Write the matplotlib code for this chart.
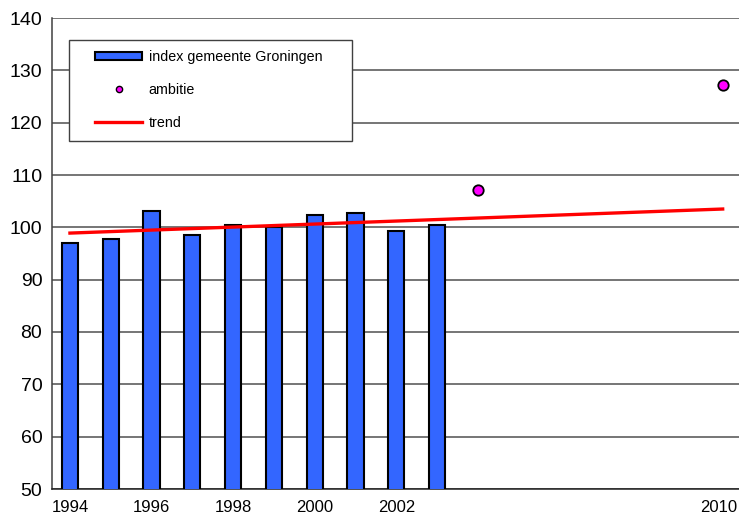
import numpy as np
import matplotlib.pyplot as plt
import matplotlib.transforms as mtransforms
from matplotlib.patches import Patch, Rectangle
from matplotlib.lines import Line2D

plt.rcParams['font.family'] = ['Liberation Sans', 'DejaVu Sans']

# index gemeente Groningen
years = [1994, 1995, 1996, 1997, 1998, 1999, 2000, 2001, 2002, 2003]
index = [97.0, 97.8, 103.1, 98.5, 100.4, 100.0, 102.3, 102.7, 99.3, 100.4]

# ambitie
amb_years = [2004, 2010]
amb_values = [107.1, 127.2]

# trend
trend_years = [1994, 2010]
trend_values = [98.9, 103.5]

xtick_pos = [1994, 1996, 1998, 2000, 2002, 2010]
ytick_pos = [50, 60, 70, 80, 90, 100, 110, 120, 130, 140]

fig = plt.figure(figsize=(7.39, 5.22), dpi=100)
ax = fig.add_axes([52 / 739, 33 / 522, 687 / 739, 471 / 522])

ax.bar(years, index, width=0.40, color='#3366FF', edgecolor='black',
       linewidth=1.5, zorder=3)
ax.plot(trend_years, trend_values, color='#FF0000', linewidth=2.4, zorder=4)
ax.plot(amb_years, amb_values, 'o', color='#FF00FF', markeredgecolor='black',
        markeredgewidth=1.3, markersize=7.5, zorder=5, linestyle='none')

ax.set_xlim(1993.56, 2010.4)
ax.set_ylim(50, 140)
ax.set_yticks(ytick_pos)
ax.set_xticks(xtick_pos)
ax.tick_params(axis='both', length=0)
ax.tick_params(axis='x', labelsize=12, pad=8)
ax.tick_params(axis='y', labelsize=14, pad=7)
ax.yaxis.grid(True, color='#505050', linewidth=1.1, zorder=0)
ax.set_axisbelow(True)

for s in ['top', 'right']:
    ax.spines[s].set_visible(False)
ax.spines['left'].set_color('#404040')
ax.spines['bottom'].set_color('#202020')
ax.spines['left'].set_linewidth(1.1)
ax.spines['bottom'].set_linewidth(1.1)

# last year label sits a bit to the left so it stays inside the picture
lbl = ax.get_xticklabels()[-1]
lbl.set_transform(lbl.get_transform() +
                  mtransforms.ScaledTranslation(-0.04, 0, fig.dpi_scale_trans))

# legend frame drawn by hand (wider than the legend content)
box = Rectangle((17 / 687, 1 - 123 / 471), 283 / 687, 101 / 471,
                transform=ax.transAxes, facecolor='white',
                edgecolor='#404040', linewidth=1.0, zorder=6)
ax.add_patch(box)

handles = [
    Patch(facecolor='#3366FF', edgecolor='black', linewidth=1.5),
    Line2D([], [], marker='o', color='#FF00FF', markeredgecolor='black',
           markersize=4.5, markeredgewidth=1, linestyle='none'),
    Line2D([], [], color='#FF0000', linewidth=2.4),
]
labels = ['index gemeente Groningen', 'ambitie', 'trend']
leg = ax.legend(handles, labels, loc='upper left',
                bbox_to_anchor=(43 / 687, 1 - 32 / 471), fontsize=10.3,
                frameon=False, borderpad=0, labelspacing=1.33,
                handlelength=3.3, handleheight=0.5, handletextpad=0.45,
                borderaxespad=0)
leg.set_zorder(7)

plt.savefig('out.png', dpi=100)
